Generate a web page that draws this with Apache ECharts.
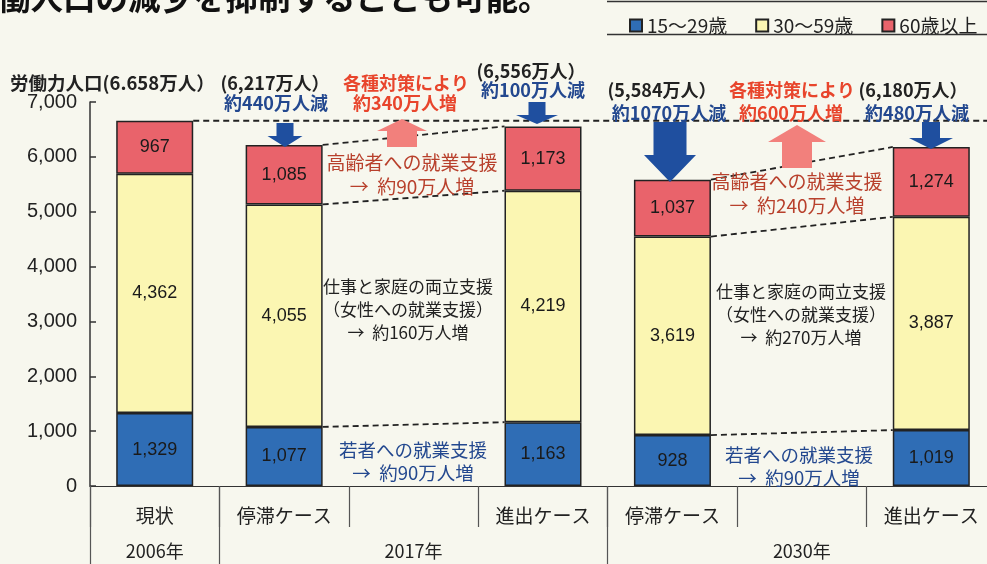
<!DOCTYPE html>
<html><head><meta charset="utf-8">
<script src="https://cdn.jsdelivr.net/npm/echarts@6/dist/echarts.min.js"></script>
<style>html,body{margin:0;padding:0;background:#f7f7ee}#c{width:987px;height:564px}</style>
</head><body><div id="c"></div>
<script>
const categories = ['現状','停滞ケース','','進出ケース','停滞ケース','','進出ケース'];
const years = ['2006年','','2017年','','','2030年',''];
const young = [1329,1077,null,1163,928,null,1019];
const middle = [4362,4055,null,4219,3619,null,3887];
const senior = [967,1085,null,1173,1037,null,1274];
const seriesNames = ['15～29歳','30～59歳','60歳以上'];
const yTicks = [0,1000,2000,3000,4000,5000,6000,7000];
const pairs = [[1,3],[4,6]];

const FONT = '"Liberation Sans","Noto Sans CJK JP",sans-serif';
const JP = '"Noto Sans CJK JP","Liberation Sans",sans-serif';
const fmt = v => Number(v).toLocaleString('en-US');
const total = i => young[i] + middle[i] + senior[i];
const HALF = 0.2975;

const connectors = [];
pairs.forEach(([a,b]) => {
  [i => total(i), i => young[i] + middle[i], i => young[i]].forEach(f => {
    connectors.push({type:'line', xAxisIndex:2, yAxisIndex:0, silent:true, symbol:'none', z:4,
      lineStyle:{color:'#222', width:1.8, type:[6,4]},
      data:[[a+HALF, f(a)],[b-HALF, f(b)]]});
  });
});
connectors.push({type:'line', xAxisIndex:2, yAxisIndex:0, silent:true, symbol:'none', z:4,
  lineStyle:{color:'#222', width:1.8, type:[6,4]},
  data:[[0+HALF, total(0)],[6.5, total(0)]]});

function t(x, y, text, color, size, weight, align){
  return {type:'text', x:x, y:y, z:20, silent:true, style:{text:text, fill:color||'#222',
    font:(weight||'normal')+' '+(size||17)+'px '+JP, textAlign:align||'center', textVerticalAlign:'middle'}};
}
function down(cx, top, headY, tip, sw, hw){
  return {type:'polygon', z:15, silent:true, shape:{points:[[cx-sw,top],[cx+sw,top],[cx+sw,headY],[cx+hw,headY],[cx,tip],[cx-hw,headY],[cx-sw,headY]]}, style:{fill:'#1f4f9f'}};
}
function up(cx, tip, headY, bottom, sw, hw){
  return {type:'polygon', z:15, silent:true, shape:{points:[[cx,tip],[cx+hw,headY],[cx+sw,headY],[cx+sw,bottom],[cx-sw,bottom],[cx-sw,headY],[cx-hw,headY]]}, style:{fill:'#f2807c'}};
}
const BLUE='#23488f', RED='#e8452c', DRED='#b8402c';

const graphics = [
  t(-2, -2, '働人口の減少を抑制することも可能。', '#111', 32.5, 'bold', 'left'),
  {type:'line', z:20, silent:true, shape:{x1:607,y1:1.5,x2:987,y2:1.5}, style:{stroke:'#333', lineWidth:1.5}},
  {type:'line', z:20, silent:true, shape:{x1:607,y1:34.5,x2:987,y2:34.5}, style:{stroke:'#333', lineWidth:1.5}},
  t(10, 83, '労働力人口(6.658万人）', '#222', 18.5, 'bold', 'left'),
  t(275, 83, '(6,217万人）', '#222', 18, 'bold'),
  t(276, 103, '約440万人減', BLUE, 18, 'bold'),
  t(406, 83, '各種対策により', RED, 18, 'bold'),
  t(405, 103, '約340万人増', RED, 18, 'bold'),
  t(531, 71, '(6,556万人）', '#222', 18, 'bold'),
  t(533, 90, '約100万人減', BLUE, 18, 'bold'),
  t(662, 90, '(5,584万人）', '#222', 18, 'bold'),
  t(669, 113, '約1070万人減', BLUE, 18, 'bold'),
  t(792, 90, '各種対策により', RED, 18, 'bold'),
  t(791, 113, '約600万人増', RED, 18, 'bold'),
  t(913, 90, '(6,180万人）', '#222', 18, 'bold'),
  t(917, 113, '約480万人減', BLUE, 18, 'bold'),
  t(412, 163, '高齢者への就業支援', DRED, 19),
  t(412, 187, '→  約90万人増', DRED, 19),
  t(408, 287, '仕事と家庭の両立支援', '#222', 17),
  t(408, 310, '（女性への就業支援）', '#222', 17),
  t(408, 333, '→  約160万人増', '#222', 17),
  t(413, 450, '若者への就業支援', BLUE, 18.5),
  t(413, 473, '→  約90万人増', BLUE, 18.5),
  t(797, 182, '高齢者への就業支援', DRED, 19),
  t(797, 206, '→  約240万人増', DRED, 19),
  t(801, 292, '仕事と家庭の両立支援', '#222', 17),
  t(801, 315, '（女性への就業支援）', '#222', 17),
  t(801, 338, '→  約270万人増', '#222', 17),
  t(799, 455, '若者への就業支援', BLUE, 18.5),
  t(799, 478, '→  約90万人増', BLUE, 18.5),
  down(285, 123, 136, 147, 8.5, 17.5),
  down(537, 102, 115, 124, 8.5, 21),
  down(670, 122, 155, 182, 16.5, 26),
  down(931, 122, 138, 149, 9, 22),
  up(402, 119, 131, 147, 15, 25),
  up(797, 125, 142, 168, 15, 29)
];

const barColors = ['#2f6db5','#fbf6b2','#e9636b'];
const barSeries = [young, middle, senior].map((d, k) => ({
  type:'bar', name:seriesNames[k], stack:'pop', xAxisIndex:0, yAxisIndex:0, barWidth:'59.5%', z:2,
  data:d, itemStyle:{color:barColors[k], borderColor:'#222', borderWidth:1.5},
  label:{show:true, position:'inside', color:'#1a1a1a', fontSize:18, fontFamily:FONT, formatter:p => fmt(p.value)}
}));

const chart = echarts.init(document.getElementById('c'), null, {renderer:'canvas'});
chart.setOption({
  backgroundColor:'#f7f7ee',
  animation:false,
  textStyle:{fontFamily:JP},
  legend:{left:624, top:11, itemWidth:12, itemHeight:12, itemGap:28, icon:'rect',
    textStyle:{fontSize:19, color:'#222', fontFamily:JP}, data:seriesNames},
  grid:{left:90, top:102, width:906, bottom:78, containLabel:false, outerBoundsMode:'none'},
  xAxis:[
    {type:'category', data:categories, position:'bottom', offset:0,
      axisLine:{show:true, onZero:false, lineStyle:{color:'#333', width:1.2}},
      axisTick:{show:true, interval:0, length:41, lineStyle:{color:'#555', width:1.2}},
      axisLabel:{interval:0, margin:20, fontSize:19, color:'#222', fontFamily:JP}},
    {type:'category', data:years, position:'bottom', offset:0,
      axisLine:{show:false, onZero:false},
      axisTick:{show:true, interval:(i) => i===0 || i===1 || i===4, length:80, lineStyle:{color:'#555', width:1.2}},
      axisLabel:{interval:0, margin:56, fontSize:18, color:'#222', fontFamily:JP}},
    {type:'value', min:-0.5, max:6.5, show:false, position:'top', axisLine:{onZero:false}}
  ],
  yAxis:{type:'value', min:0, max:7000, interval:1000, position:'left',
    axisLine:{show:true, onZero:false, lineStyle:{color:'#333', width:1.5}},
    axisTick:{show:true, inside:true, length:6, lineStyle:{color:'#333', width:1.5}},
    axisLabel:{fontSize:20, color:'#222', margin:13, fontFamily:FONT,
      formatter:v => yTicks.indexOf(v) >= 0 ? fmt(v) : ''},
    splitLine:{show:false}},
  series: barSeries.concat(connectors),
  graphic: graphics
});
</script></body></html>
